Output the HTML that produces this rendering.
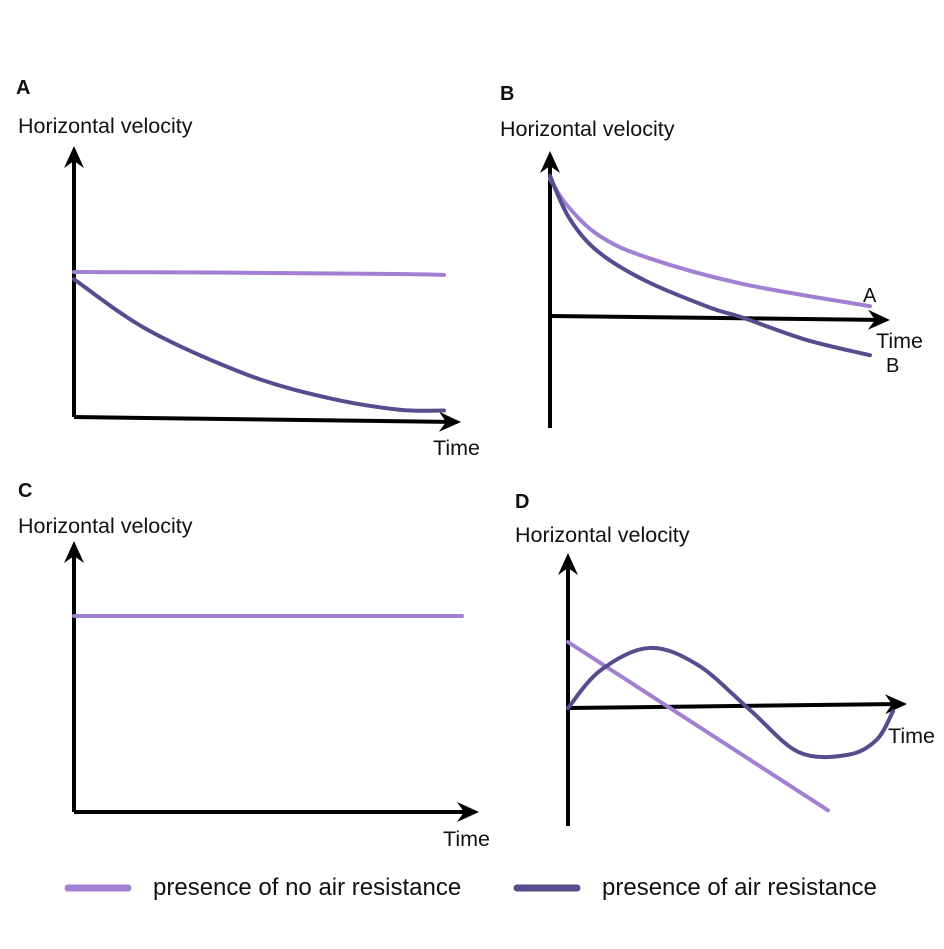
<!DOCTYPE html>
<html><head><meta charset="utf-8"><style>
html,body{margin:0;padding:0;background:#fff;}
svg text{font-family:"Liberation Sans",sans-serif;fill:#111;}
</style></head><body>
<svg id="fig" width="944" height="944" viewBox="0 0 944 944" xmlns="http://www.w3.org/2000/svg">
<defs><marker id="ar" markerWidth="22" markerHeight="20" refX="18" refY="10" orient="auto" markerUnits="userSpaceOnUse" viewBox="0 0 22 20"><path d="M0,0 L22,10 L0,20 L7,10 Z" fill="#000"/></marker></defs>
<g>
<text x="16" y="94" font-size="20" font-weight="bold">A</text>
<text x="18" y="133" font-size="21.5">Horizontal velocity</text>
<line x1="74" y1="417" x2="74" y2="150" stroke="#000" stroke-width="4" marker-end="url(#ar)"/>
<line x1="74" y1="417" x2="457" y2="422" stroke="#000" stroke-width="4" marker-end="url(#ar)"/>
<text x="433" y="455" font-size="21.5">Time</text>
</g>
<g>
<text x="500" y="100" font-size="20" font-weight="bold">B</text>
<text x="500" y="136" font-size="21.5">Horizontal velocity</text>
<line x1="550" y1="428" x2="550" y2="155" stroke="#000" stroke-width="4" marker-end="url(#ar)"/>
<line x1="550" y1="316" x2="886" y2="320" stroke="#000" stroke-width="4" marker-end="url(#ar)"/>
<text x="876" y="348" font-size="21.5">Time</text>
<text x="863" y="302" font-size="20">A</text>
<text x="886" y="372" font-size="20">B</text>
</g>
<g>
<text x="18" y="497" font-size="20" font-weight="bold">C</text>
<text x="18" y="533" font-size="21.5">Horizontal velocity</text>
<line x1="74" y1="812" x2="74" y2="545" stroke="#000" stroke-width="4" marker-end="url(#ar)"/>
<line x1="74" y1="812" x2="475" y2="812" stroke="#000" stroke-width="4" marker-end="url(#ar)"/>
<text x="443" y="846" font-size="21.5">Time</text>
</g>
<g>
<text x="515" y="508" font-size="20" font-weight="bold">D</text>
<text x="515" y="542" font-size="21.5">Horizontal velocity</text>
<line x1="568" y1="826" x2="568" y2="557" stroke="#000" stroke-width="4" marker-end="url(#ar)"/>
<line x1="568" y1="708" x2="903" y2="704" stroke="#000" stroke-width="4" marker-end="url(#ar)"/>
<text x="888" y="743" font-size="21.5">Time</text>
</g>
<g>
<line x1="68" y1="888" x2="128" y2="888" stroke="#a17fd3" stroke-width="7" stroke-linecap="round"/>
<text x="153" y="895" font-size="24">presence of no air resistance</text>
<line x1="517" y1="888" x2="577" y2="888" stroke="#5a4a8e" stroke-width="7" stroke-linecap="round"/>
<text x="602" y="895" font-size="24">presence of air resistance</text>
</g>
<g id="series"></g>
</svg>
<script>
// Panel A
const aTime = [0, 20, 45, 70, 90, 100];
const aNoAir = [100, 99.8, 99.5, 99, 98.5, 98];
const aAirTime = [0, 20, 47, 69, 88, 100];
const aAir = [95, 60, 29, 13, 5, 4.5];
// Panel B
const bNoAirTime = [0, 5, 15, 30, 60, 100];
const bNoAir = [98, 80, 58, 42, 23, 7];
const bAirTime = [0, 6, 15, 30, 50, 60, 80, 100];
const bAir = [100, 70, 46, 25, 6, -1, -17, -28];
// Panel C
const cTime = [0, 100];
const cNoAir = [100, 100];
// Panel D
const dNoAirTime = [0, 80];
const dNoAir = [100, -155];
const dAirTime = [0, 10, 25, 40, 56, 71, 86, 95, 100];
const dAir = [0, 57, 91, 65, -3, -67, -71, -48, -5];

const panels = {
  a:{ox:74, oy:417, sx:3.7, sy:1.45},
  b:{ox:550, oy:316, sx:3.2, sy:1.4},
  c:{ox:74, oy:812, sx:3.88, sy:1.96},
  d:{ox:568, oy:708, sx:3.25, sy:0.66}
};
function xAxis(p,t){return panels[p].ox + t*panels[p].sx;}
function yAxis(p,v){return panels[p].oy - v*panels[p].sy;}
function pathFor(p,ts,vs){
  const pts = ts.map((t,i)=>[xAxis(p,t), yAxis(p,vs[i])]);
  if(pts.length<3) return 'M'+pts.map(q=>q.join(',')).join(' L');
  let d='M'+pts[0][0]+','+pts[0][1];
  for(let i=0;i<pts.length-1;i++){
    const p0=pts[Math.max(0,i-1)], p1=pts[i], p2=pts[i+1], p3=pts[Math.min(pts.length-1,i+2)];
    const c1=[p1[0]+(p2[0]-p0[0])/6, p1[1]+(p2[1]-p0[1])/6];
    const c2=[p2[0]-(p3[0]-p1[0])/6, p2[1]-(p3[1]-p1[1])/6];
    d+=' C'+c1.join(',')+' '+c2.join(',')+' '+p2.join(',');
  }
  return d;
}
const layer=document.getElementById('series');
function addSeries(p,ts,vs,color,name){
  const el=document.createElementNS('http://www.w3.org/2000/svg','path');
  el.setAttribute('d',pathFor(p,ts,vs));
  el.setAttribute('fill','none');
  el.setAttribute('stroke',color);
  el.setAttribute('stroke-width','4');
  el.setAttribute('stroke-linecap','round');
  
  
  layer.appendChild(el);
}
const LIGHT='#a17fd3', DARK='#5a4a8e';
addSeries('a',aTime,aNoAir,LIGHT,'panel-a-no-air-line');
addSeries('a',aAirTime,aAir,DARK,'panel-a-air-line');
addSeries('b',bNoAirTime,bNoAir,LIGHT,'panel-b-no-air-line');
addSeries('b',bAirTime,bAir,DARK,'panel-b-air-line');
addSeries('c',cTime,cNoAir,LIGHT,'panel-c-no-air-line');
addSeries('d',dNoAirTime,dNoAir,LIGHT,'panel-d-no-air-line');
addSeries('d',dAirTime,dAir,DARK,'panel-d-air-line');
</script>
</body></html>
